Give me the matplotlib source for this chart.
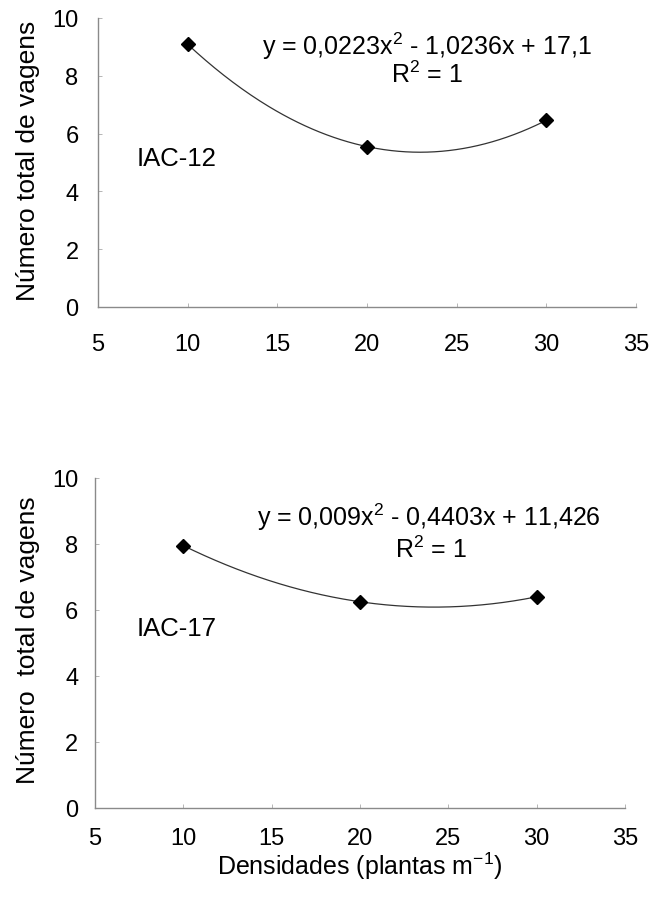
import numpy as np
import matplotlib
matplotlib.use("Agg")
import matplotlib.pyplot as plt

plt.rcParams['font.family'] = ['Liberation Sans', 'DejaVu Sans']
plt.rcParams['mathtext.fontset'] = 'custom'
plt.rcParams['mathtext.rm'] = 'Liberation Sans'
plt.rcParams['mathtext.it'] = 'Liberation Sans:italic'

# Data
densidades = [10, 20, 30]
iac12 = [9.09, 5.55, 6.46]
iac17 = [7.95, 6.25, 6.40]
x_ticks = [5, 10, 15, 20, 25, 30, 35]
y_ticks = [0, 2, 4, 6, 8, 10]
eq12 = "y = 0,0223x$\\mathregular{^2}$ - 1,0236x + 17,1"
eq17 = "y = 0,009x$\\mathregular{^2}$ - 0,4403x + 11,426"
r2 = "R$\\mathregular{^2}$ = 1"
ylab12 = "Número total de vagens"
ylab17 = "Número  total de vagens"
xlab = "Densidades (plantas m$\\mathregular{^{-1}}$)"

W, H = 651, 904
fig = plt.figure(figsize=(W / 100, H / 100), dpi=100)

def ax_rect(l, r, t, b):
    return [l / W, 1 - b / H, (r - l) / W, (b - t) / H]

def px(x, y):
    return x / W, 1 - y / H

def style(ax, xpad, ypad):
    ax.set_xlim(5, 35)
    ax.set_ylim(0, 10)
    ax.set_xticks(x_ticks)
    ax.set_yticks(y_ticks)
    for s in ['top', 'right']:
        ax.spines[s].set_visible(False)
    for s in ['left', 'bottom']:
        ax.spines[s].set_color('#8a8a8a')
        ax.spines[s].set_linewidth(1.0)
    ax.tick_params(axis='x', direction='in', length=3, width=0.6, color='#aaaaaa',
                   labelsize=17, pad=xpad)
    ax.tick_params(axis='y', direction='in', length=3, width=0.6, color='#aaaaaa',
                   labelsize=17, pad=ypad)

def draw(ax, y):
    c = np.polyfit(densidades, y, 2)
    xs = np.linspace(densidades[0], densidades[-1], 200)
    ax.plot(xs, np.polyval(c, xs), color='#333333', lw=0.9, zorder=2)
    ax.plot(densidades, y, linestyle='none', marker='D', ms=7.5,
            color='black', zorder=3, clip_on=False)

ax1 = fig.add_axes(ax_rect(98, 636, 19, 308))
style(ax1, 19, 14)
draw(ax1, iac12)

ax2 = fig.add_axes(ax_rect(95, 625, 479, 809))
style(ax2, 14, 12)
draw(ax2, iac17)

fig.text(*px(427, 46), eq12, fontsize=18, ha='center', va='center')
fig.text(*px(427, 75), r2, fontsize=18, ha='center', va='center')
fig.text(*px(137, 159), "IAC-12", fontsize=18.5, ha='left', va='center')
fig.text(*px(28, 161), ylab12, fontsize=19, rotation=90, ha='center', va='center')

fig.text(*px(429, 517), eq17, fontsize=18, ha='center', va='center')
fig.text(*px(431, 550), r2, fontsize=18, ha='center', va='center')
fig.text(*px(137, 629), "IAC-17", fontsize=18.5, ha='left', va='center')
fig.text(*px(28, 640), ylab17, fontsize=19, rotation=90, ha='center', va='center')

fig.text(*px(360, 866), xlab, fontsize=18, ha='center', va='center')

fig.savefig("out.png", dpi=100)
